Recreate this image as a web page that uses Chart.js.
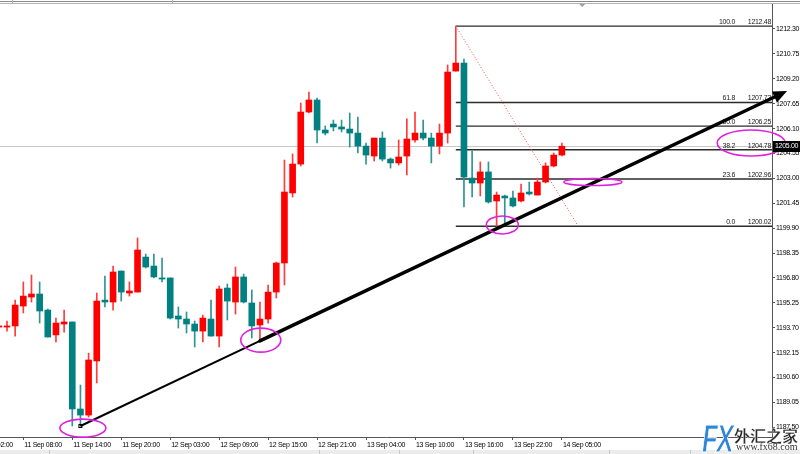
<!DOCTYPE html>
<html>
<head>
<meta charset="utf-8">
<script src="https://cdn.jsdelivr.net/npm/chart.js@4.4.1/dist/chart.umd.min.js"></script>
<style>
  html, body { margin: 0; padding: 0; background: #fff; }
  #wrap { position: relative; width: 800px; height: 454px; overflow: hidden; }
  #c { position: absolute; left: 0; top: 0; }
  .wm { position: absolute; white-space: nowrap; }
</style>
</head>
<body>
<div id="wrap">
  <canvas id="c" width="800" height="454"></canvas>
  <div class="wm" style="left:702px;top:418px;font:italic bold 38px 'Liberation Sans',sans-serif;color:#2f86d8;-webkit-text-stroke:1px #ffffff;transform:scaleX(0.68);transform-origin:left top;letter-spacing:-2px;">FX</div>
  <div class="wm" style="left:734px;top:423px;font:bold 16px 'Noto Sans CJK SC',sans-serif;color:#2a2a2a;-webkit-text-stroke:0.3px #fff;">外汇之家</div>
  <div class="wm" style="left:736px;top:441px;font:10px 'Liberation Serif',serif;color:#333;">www.fx68.com</div>
</div>
<script>
// ---------------- data ----------------
const opens = [1193.74,1193.74,1193.81,1195.05,1195.61,1195.80,1194.80,1193.25,1193.93,1194.06,
1188.64,1188.26,1191.63,1195.42,1195.30,1197.23,1195.86,1195.92,1198.10,1197.54,
1196.80,1196.80,1194.43,1194.24,1193.93,1193.49,1194.24,1193.18,1196.17,1195.30,
1196.86,1195.24,1193.87,1194.24,1195.92,1197.73,1202.09,1203.89,1207.13,1207.88,
1206.01,1206.38,1206.20,1206.07,1205.82,1205.01,1204.39,1205.51,1204.20,1203.96,
1204.39,1205.39,1205.82,1205.51,1205.01,1205.82,1209.68,1210.18,1203.02,1202.71,
1203.40,1201.59,1201.90,1201.78,1201.59,1202.15,1201.96,1202.77,1203.77,1204.45];
const highs = [1193.87,1194.12,1195.42,1196.55,1196.98,1196.55,1194.86,1194.30,1194.80,1194.06,
1190.13,1192.12,1195.86,1196.92,1197.54,1197.23,1196.55,1199.29,1198.29,1198.29,
1198.04,1196.80,1194.99,1194.68,1194.12,1194.49,1195.42,1196.30,1196.42,1197.48,
1197.04,1196.05,1195.30,1196.36,1197.79,1204.14,1204.52,1207.69,1208.38,1208.00,
1206.26,1206.63,1206.63,1207.07,1206.82,1205.20,1205.51,1205.89,1204.27,1205.39,
1206.70,1207.13,1206.63,1205.82,1206.38,1210.06,1212.48,1210.43,1204.70,1204.02,
1204.02,1202.15,1201.96,1202.21,1202.65,1202.77,1203.02,1203.96,1204.58,1205.20];
const lows = [1193.68,1193.49,1193.18,1194.62,1195.30,1193.99,1193.12,1192.81,1193.43,1187.58,
1187.58,1188.14,1190.26,1194.99,1194.80,1195.36,1195.67,1195.92,1197.42,1196.80,
1196.55,1194.24,1193.68,1193.37,1192.50,1192.81,1193.18,1192.50,1194.18,1194.55,
1195.24,1193.06,1192.87,1193.99,1195.55,1196.36,1201.84,1203.77,1207.07,1205.20,
1205.70,1205.95,1205.89,1204.95,1204.58,1203.89,1204.08,1204.08,1203.64,1203.83,
1203.21,1205.26,1205.39,1203.96,1204.52,1205.20,1209.68,1201.22,1201.84,1201.90,
1201.46,1200.02,1200.10,1201.22,1201.53,1201.96,1201.96,1202.71,1203.71,1204.39];
const closes = [1193.81,1193.81,1195.11,1195.67,1195.80,1194.74,1193.12,1193.99,1194.06,1188.64,
1188.26,1191.69,1195.36,1195.30,1197.17,1195.92,1195.99,1198.54,1197.48,1196.86,
1196.73,1194.30,1194.24,1193.93,1193.49,1194.30,1193.18,1196.11,1195.36,1196.86,
1195.30,1193.81,1194.24,1195.92,1197.73,1202.15,1203.89,1207.13,1207.88,1206.01,
1205.82,1206.20,1206.07,1205.82,1205.01,1204.45,1205.51,1204.20,1203.96,1204.33,
1205.45,1205.82,1205.51,1205.01,1205.82,1209.62,1210.18,1203.08,1202.71,1203.40,
1201.53,1201.96,1201.78,1201.28,1202.09,1202.03,1202.77,1203.77,1204.45,1205.00];

const xTickIndex = [-3, 3, 9, 15, 21, 27, 33, 39, 45, 51, 57, 63, 69];
const xTickLabels = ['11 Sep 02:00','11 Sep 08:00','11 Sep 14:00','11 Sep 20:00','12 Sep 03:00',
  '12 Sep 09:00','12 Sep 15:00','12 Sep 21:00','13 Sep 04:00','13 Sep 10:00','13 Sep 16:00',
  '13 Sep 22:00','14 Sep 05:00'];
const yTicks = [1187.50,1189.05,1190.60,1192.15,1193.70,1195.25,1196.80,1198.35,1199.90,
  1201.45,1203.00,1204.55,1206.10,1207.65,1209.20,1210.75,1212.30];

const fibRatios = ['0.0','23.6','38.2','50.0','61.8','100.0'];
const fibPrices = [1200.02,1202.96,1204.78,1206.25,1207.72,1212.48];
const fibAnchorIndex = [56, 71];          // candle of the high, projected end
const fibAnchorPrice = [1212.48, 1200.02];

const trendIndex = [10, 96.6];
const trendPrice = [1187.58, 1208.44];
const arrowStartIndex = 32;

const circleIndex = [10.3, 32.1, 61.7, 72.8, 92.2];
const circlePrice = [1187.45, 1192.93, 1200.10, 1202.77, 1205.20];

// ---------------- styles ----------------
const FONT = "'Liberation Sans','DejaVu Sans',sans-serif";
const FS = 7;
const circleRx = [23, 20, 16, 29, 34];
const circleRy = [9, 12, 9, 3.5, 13];
const UP = '#ff0000', DOWN = '#008080';
const UP_WICK = '#ff3b3b', DOWN_WICK = '#2d9595';
const PX_PER_BAR = 8.16;
const X_MIN = 1.16 / PX_PER_BAR;
const X_MAX = X_MIN + 772 / PX_PER_BAR;
const PX_PER_UNIT = 16.06;
const Y_MAX = 1212.30 + 25 / PX_PER_UNIT;
const Y_MIN = Y_MAX - 433 / PX_PER_UNIT;
const SHIFT_MARK_INDEX = 71.5;

const idx = opens.map((_, i) => i);
const isUp = idx.map(i => closes[i] >= opens[i]);

const overlay = {
  id: 'overlay',
  beforeDraw(chart) {
    chart.ctx.letterSpacing = '-0.3px';
  },
  beforeDatasetsDraw(chart) {
    const { ctx, chartArea: a, scales: { x, y } } = chart;
    ctx.save();
    // current price line
    const py = Math.round(y.getPixelForValue(closes[closes.length - 1])) + 0.5;
    ctx.strokeStyle = '#c8c8c8'; ctx.lineWidth = 1;
    ctx.beginPath(); ctx.moveTo(a.left, py); ctx.lineTo(a.right, py); ctx.stroke();
    // fibonacci levels
    const fx = x.getPixelForValue(fibAnchorIndex[0]);
    ctx.font = FS + 'px ' + FONT;
    ctx.textBaseline = 'bottom';
    fibPrices.forEach((p, k) => {
      const yy = y.getPixelForValue(p);
      ctx.strokeStyle = '#2b2b2b'; ctx.lineWidth = 1.4;
      ctx.beginPath(); ctx.moveTo(fx, yy); ctx.lineTo(a.right, yy); ctx.stroke();
      ctx.fillStyle = '#222';
      ctx.textAlign = 'right';
      ctx.fillText(fibRatios[k], a.right - 37, yy - 0.5);
      ctx.fillText(p.toFixed(2), a.right - 1, yy - 0.5);
    });
    // fib diagonal
    ctx.strokeStyle = '#ff4a4a'; ctx.lineWidth = 1; ctx.setLineDash([1, 2]);
    ctx.beginPath();
    ctx.moveTo(x.getPixelForValue(fibAnchorIndex[0]), y.getPixelForValue(fibAnchorPrice[0]));
    ctx.lineTo(x.getPixelForValue(fibAnchorIndex[1]), y.getPixelForValue(fibAnchorPrice[1]));
    ctx.stroke();
    ctx.restore();
  },
  afterDatasetsDraw(chart) {
    const { ctx, scales: { x, y } } = chart;
    ctx.save();
    const x0 = x.getPixelForValue(trendIndex[0]), y0 = y.getPixelForValue(trendPrice[0]);
    const x1 = x.getPixelForValue(trendIndex[1]), y1 = y.getPixelForValue(trendPrice[1]);
    const t = (arrowStartIndex - trendIndex[0]) / (trendIndex[1] - trendIndex[0]);
    const xs = x0 + (x1 - x0) * t, ys = y0 + (y1 - y0) * t;
    // thin trend line
    ctx.strokeStyle = '#000'; ctx.lineWidth = 2;
    ctx.beginPath(); ctx.moveTo(x0, y0); ctx.lineTo(xs, ys); ctx.stroke();
    ctx.lineWidth = 1;
    ctx.strokeRect(x0 - 1.5, y0 - 1.5, 3, 3);
    // thick arrow
    const ang = Math.atan2(y1 - y0, x1 - x0);
    const headLen = 14, headW = 6;
    const bx = x1 - Math.cos(ang) * headLen, by = y1 - Math.sin(ang) * headLen;
    ctx.lineWidth = 3.5; ctx.lineCap = 'round';
    ctx.beginPath(); ctx.moveTo(xs, ys); ctx.lineTo(bx, by); ctx.stroke();
    ctx.fillStyle = '#000';
    ctx.beginPath();
    ctx.moveTo(x1, y1);
    ctx.lineTo(bx + Math.sin(ang) * headW, by - Math.cos(ang) * headW);
    ctx.lineTo(bx - Math.sin(ang) * headW, by + Math.cos(ang) * headW);
    ctx.closePath(); ctx.fill();
    // ellipses
    ctx.strokeStyle = '#e020e0'; ctx.lineWidth = 1.6;
    circleIndex.forEach((ci, k) => {
      ctx.beginPath();
      ctx.ellipse(x.getPixelForValue(ci), y.getPixelForValue(circlePrice[k]), circleRx[k], circleRy[k], 0, 0, Math.PI * 2);
      ctx.stroke();
    });
    ctx.restore();
  },
  afterDraw(chart) {
    const { ctx, chartArea: a, scales: { x, y } } = chart;
    ctx.save();
    // top frame lines
    ctx.fillStyle = '#8a8a8a'; ctx.fillRect(0, 1, 800, 1);
    ctx.fillStyle = '#b4b4b4'; ctx.fillRect(0, 3, 800, 1);
    ctx.fillStyle = '#b4b4b4'; ctx.fillRect(12, 0, 1, 3); ctx.fillRect(172, 0, 1, 3);
    // shift marker
    const sx = x.getPixelForValue(SHIFT_MARK_INDEX);
    ctx.fillStyle = '#a0a0a0';
    ctx.beginPath(); ctx.moveTo(sx - 3, 4); ctx.lineTo(sx + 3, 4); ctx.lineTo(sx, 7); ctx.closePath(); ctx.fill();
    // bottom strip
    ctx.fillStyle = '#ececec'; ctx.fillRect(0, 450, 800, 4);
    ctx.fillStyle = '#c8c8c8';
    [49, 319, 399, 473, 609, 690].forEach(v => ctx.fillRect(v, 450, 1, 4));
    // price tag
    const last = closes[closes.length - 1];
    const py = y.getPixelForValue(last);
    ctx.fillStyle = '#000'; ctx.fillRect(a.right + 1, Math.round(py) - 5, 28, 11);
    ctx.fillStyle = '#fff'; ctx.font = FS + 'px ' + FONT;
    ctx.textAlign = 'left'; ctx.textBaseline = 'middle';
    ctx.fillText(last.toFixed(2), a.right + 3, Math.round(py) + 0.5);
    ctx.restore();
  }
};

new Chart(document.getElementById('c'), {
  type: 'bar',
  data: {
    datasets: [
      {
        label: 'body',
        data: idx.map(i => ({ x: i, y: [opens[i], closes[i]] })),
        backgroundColor: isUp.map(u => u ? UP : DOWN),
        barThickness: 6, grouped: false, minBarLength: 1, borderWidth: 0
      },
      {
        label: 'wick',
        data: idx.map(i => ({ x: i, y: [lows[i], highs[i]] })),
        backgroundColor: isUp.map(u => u ? UP_WICK : DOWN_WICK),
        barThickness: 1, grouped: false, minBarLength: 1, borderWidth: 0
      }
    ]
  },
  options: {
    responsive: false,
    animation: false,
    events: [],
    layout: { padding: { top: 4, left: 0, right: 0, bottom: 0 } },
    plugins: { legend: { display: false }, tooltip: { enabled: false } },
    scales: {
      x: {
        type: 'linear', min: X_MIN, max: X_MAX, offset: false, position: 'bottom',
        afterBuildTicks: s => { s.ticks = xTickIndex.map(v => ({ value: v })); },
        afterFit: s => { s.height = 17; s.paddingLeft = 0; s.paddingRight = 0; },
        ticks: {
          autoSkip: false, maxRotation: 0, minRotation: 0, align: 'start', padding: 1,
          labelOffset: 1, color: '#000', font: { family: FONT, size: FS },
          callback: (v, i) => xTickLabels[i]
        },
        grid: { drawOnChartArea: false, drawTicks: true, tickLength: 3, tickColor: '#555', offset: false },
        border: { display: true, color: '#555', width: 1 }
      },
      y: {
        type: 'linear', position: 'right', min: Y_MIN, max: Y_MAX,
        afterBuildTicks: s => { s.ticks = yTicks.map(v => ({ value: v })); },
        afterFit: s => { s.width = 28; s.paddingTop = 0; s.paddingBottom = 0; },
        ticks: {
          padding: 1, color: '#000', font: { family: FONT, size: FS },
          callback: v => Number(v).toFixed(2)
        },
        grid: { drawOnChartArea: false, drawTicks: true, tickLength: 3, tickColor: '#555' },
        border: { display: true, color: '#555', width: 1 }
      }
    }
  },
  plugins: [overlay]
});
</script>
</body>
</html>
